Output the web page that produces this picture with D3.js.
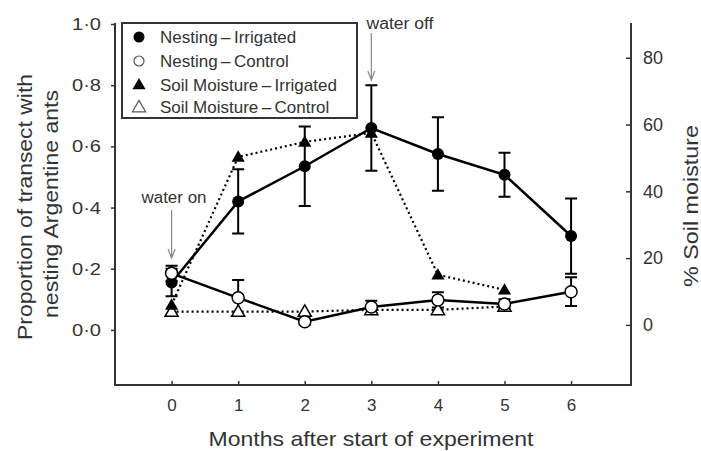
<!DOCTYPE html>
<html><head><meta charset="utf-8">
<script src="https://cdn.jsdelivr.net/npm/d3@7"></script>
<style>body{margin:0;background:#fff}svg{display:block}text{font-family:"Liberation Sans",Arial,sans-serif;fill:#333}</style>
</head><body><svg id="c" width="701" height="451"></svg>
<script>
const months = [0,1,2,3,4,5,6];
const nestIrr = [0.155,0.42,0.535,0.66,0.575,0.507,0.307];
const nestIrrErr = [0.045,0.105,0.13,0.14,0.12,0.072,0.123];
const nestCtrl = [0.185,0.105,0.027,0.075,0.098,0.085,0.125];
const nestCtrlErr = [0.025,0.058,0.01,0.02,0.025,0.015,0.047];
const soilMonths = [0,1,2,3,4,5];
const soilIrr = [6,50.3,54.8,57.5,15,10.5];
const soilCtrl = [4,4,4,4.5,4.5,5.5];
const leftTicks = [0,0.2,0.4,0.6,0.8,1.0];
const leftTickLabels = ["0·0","0·2","0·4","0·6","0·8","1·0"];
const rightTicks = [0,20,40,60,80];
const legendLabels = ["Nesting\u2009–\u2009Irrigated","Nesting\u2009–\u2009Control","Soil Moisture\u2009–\u2009Irrigated","Soil Moisture\u2009–\u2009Control"];

const svg = d3.select("#c");
const L=115,R=631,T=23,B=385;
const x = d3.scaleLinear().domain([-0.85,6.9]).range([L,R]);
const yL = d3.scaleLinear().domain([-0.18,1.0]).range([B,24]);
const yR = d3.scaleLinear().domain([-18,90.4]).range([B,T]);
const axisCol="#333";

// frame
svg.append("path").attr("d",`M${L},${T}V${B}H${R}V${T}`).attr("fill","none").attr("stroke",axisCol).attr("stroke-width",2);

// left axis
const gl = svg.append("g").attr("transform",`translate(${L},0)`)
  .call(d3.axisLeft(yL).tickValues(leftTicks).tickSize(4).tickFormat((d,i)=>leftTickLabels[i]));
gl.select(".domain").remove();
gl.selectAll("line").attr("stroke",axisCol).attr("stroke-width",1.5);
gl.selectAll("text").attr("font-size",17).attr("x",-14).attr("fill","#444").attr("textLength",29).attr("lengthAdjust","spacingAndGlyphs");

// right axis (ticks inward)
const gr = svg.append("g").attr("transform",`translate(${R},0)`)
  .call(d3.axisRight(yR).tickValues(rightTicks).tickSize(-5).tickPadding(12));
gr.select(".domain").remove();
gr.selectAll("line").attr("stroke",axisCol).attr("stroke-width",1.5);
gr.selectAll("text").attr("font-size",18).attr("fill","#444");

// bottom axis (ticks inward)
const gb = svg.append("g").attr("transform",`translate(0,${B})`)
  .call(d3.axisBottom(x).tickValues(months).tickSize(-4).tickPadding(14).tickFormat(d3.format("d")));
gb.select(".domain").remove();
gb.selectAll("line").attr("stroke",axisCol).attr("stroke-width",1.5);
gb.selectAll("text").attr("font-size",17).attr("fill","#444");

// titles
svg.append("text").attr("x",371).attr("y",446).attr("text-anchor","middle").attr("font-size",21)
  .attr("textLength",325).attr("lengthAdjust","spacingAndGlyphs").text("Months after start of experiment");
svg.append("text").attr("transform","translate(32,207) rotate(-90)").attr("text-anchor","middle").attr("font-size",21)
  .attr("textLength",266).attr("lengthAdjust","spacingAndGlyphs").text("Proportion of transect with");
svg.append("text").attr("transform","translate(58,204) rotate(-90)").attr("text-anchor","middle").attr("font-size",21)
  .attr("textLength",228).attr("lengthAdjust","spacingAndGlyphs").text("nesting Argentine ants");
svg.append("text").attr("transform","translate(698,206) rotate(-90)").attr("text-anchor","middle").attr("font-size",21)
  .attr("textLength",162).attr("lengthAdjust","spacingAndGlyphs").text("% Soil moisture");

// lines
const soilLine = (arr)=>d3.line().x((d,i)=>x(soilMonths[i])).y(d=>yR(d))(arr);
const nestLine = (arr)=>d3.line().x((d,i)=>x(months[i])).y(d=>yL(d))(arr);
svg.append("path").attr("d",soilLine(soilCtrl)).attr("fill","none").attr("stroke","#000").attr("stroke-width",2.2).attr("stroke-dasharray","2,3");
svg.append("path").attr("d",soilLine(soilIrr)).attr("fill","none").attr("stroke","#000").attr("stroke-width",2.2).attr("stroke-dasharray","2,3");
svg.append("path").attr("d",nestLine(nestCtrl)).attr("fill","none").attr("stroke","#000").attr("stroke-width",2.5);
svg.append("path").attr("d",nestLine(nestIrr)).attr("fill","none").attr("stroke","#000").attr("stroke-width",2.5);

// error bars
function errBars(vals, errs){
  const g = svg.append("g").attr("stroke","#000").attr("stroke-width",2).attr("fill","none");
  vals.forEach((v,i)=>{
    const cx=x(months[i]), t=yL(v+errs[i]), b=yL(v-errs[i]);
    g.append("path").attr("d",`M${cx},${t}V${b}M${cx-6},${t}H${cx+6}M${cx-6},${b}H${cx+6}`);
  });
}
errBars(nestIrr,nestIrrErr);
errBars(nestCtrl,nestCtrlErr);

// markers
const tri = d3.symbol().type(d3.symbolTriangle).size(75);
svg.append("g").selectAll("path").data(soilCtrl).join("path")
  .attr("d",tri).attr("transform",(d,i)=>`translate(${x(soilMonths[i])},${yR(d)+1})`)
  .attr("fill","#fff").attr("stroke","#000").attr("stroke-width",1.5);
svg.append("g").selectAll("path").data(soilIrr).join("path")
  .attr("d",tri).attr("transform",(d,i)=>`translate(${x(soilMonths[i])},${yR(d)+1})`)
  .attr("fill","#000");
svg.append("g").selectAll("circle").data(nestIrr).join("circle")
  .attr("cx",(d,i)=>x(months[i])).attr("cy",d=>yL(d)).attr("r",6).attr("fill","#000");
svg.append("g").selectAll("circle").data(nestCtrl).join("circle")
  .attr("cx",(d,i)=>x(months[i])).attr("cy",d=>yL(d)).attr("r",6).attr("fill","#fff").attr("stroke","#000").attr("stroke-width",1.5);

// annotations
function arrow(ax, y1, y2){
  svg.append("path").attr("d",`M${ax},${y1}V${y2}M${ax-3.5},${y2-9}L${ax},${y2}L${ax+3.5},${y2-9}`)
    .attr("fill","none").attr("stroke","#888").attr("stroke-width",1.2);
}
svg.append("text").attr("x",174).attr("y",203).attr("text-anchor","middle").attr("font-size",16).attr("fill","#555")
  .attr("textLength",65).attr("lengthAdjust","spacingAndGlyphs").text("water on");
arrow(x(0),210,258);
svg.append("text").attr("x",400).attr("y",29).attr("text-anchor","middle").attr("font-size",16).attr("fill","#555")
  .attr("textLength",67).attr("lengthAdjust","spacingAndGlyphs").text("water off");
arrow(x(3),33,80);

// legend
const lg = svg.append("g");
lg.append("rect").attr("x",122).attr("y",23).attr("width",235).attr("height",95).attr("fill","#fff").attr("stroke","#333").attr("stroke-width",2);
const rowsY=[37,61,84.5,107];
lg.append("circle").attr("cx",139).attr("cy",rowsY[0]).attr("r",5.5).attr("fill","#000");
lg.append("circle").attr("cx",139).attr("cy",rowsY[1]).attr("r",5).attr("fill","#fff").attr("stroke","#555").attr("stroke-width",1.2);
lg.append("path").attr("d",tri).attr("transform",`translate(139,${rowsY[2]+1})`).attr("fill","#000");
lg.append("path").attr("d",tri).attr("transform",`translate(139,${rowsY[3]+1})`).attr("fill","#fff").attr("stroke","#555").attr("stroke-width",1.2);
lg.selectAll("text").data(legendLabels).join("text").attr("x",160).attr("y",(d,i)=>rowsY[i]+6).attr("font-size",17).attr("fill","#333").text(d=>d);
</script></body></html>
